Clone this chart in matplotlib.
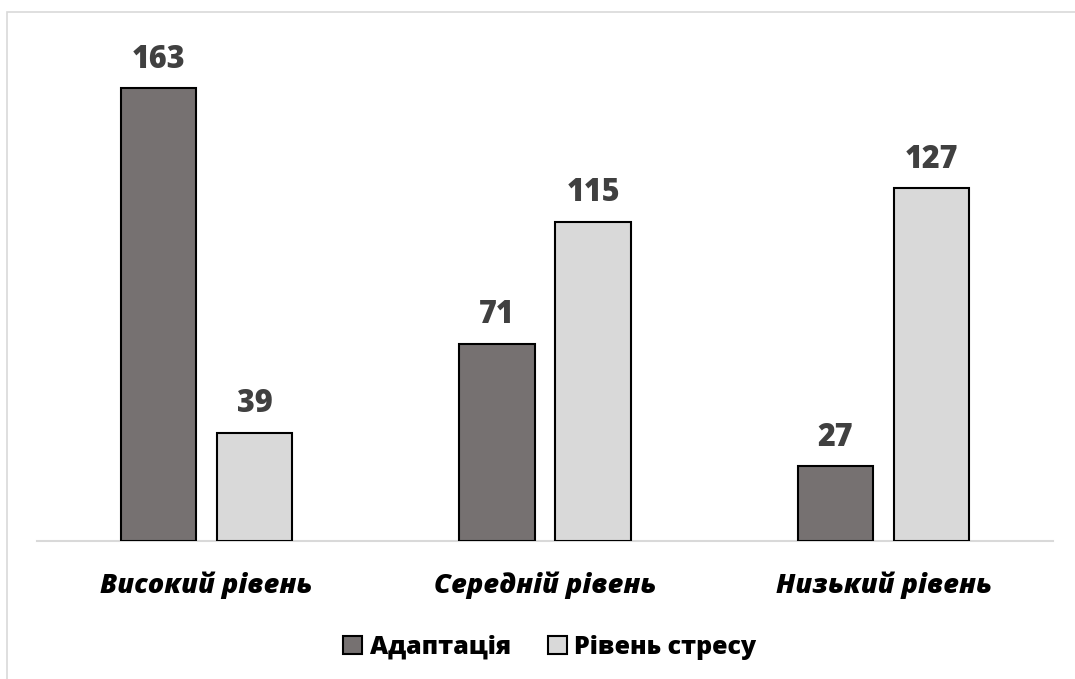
import matplotlib.pyplot as plt
import numpy as np
from matplotlib.patches import Rectangle

plt.rcParams['font.family'] = ['Open Sans', 'DejaVu Sans']

# Data
categories = ['Високий рівень', 'Середній рівень', 'Низький рівень']
series_names = ['Адаптація', 'Рівень стресу']
adaptation = [163, 71, 27]
stress = [39, 115, 127]

colors = ['#767171', '#d9d9d9']

fig = plt.figure(figsize=(10.75, 6.79), dpi=100)
ax = fig.add_axes([37 / 1075, 138 / 679, 1016 / 1075, 500 / 679])

x = np.arange(len(categories))
width = 0.222
offset = 0.142

bars1 = ax.bar(x - offset, adaptation, width, color=colors[0], edgecolor='black',
               linewidth=1.5, label=series_names[0], zorder=3)
bars2 = ax.bar(x + offset, stress, width, color=colors[1], edgecolor='black',
               linewidth=1.5, label=series_names[1], zorder=3)

# Value labels above bars
for bars in (bars1, bars2):
    for b in bars:
        ax.annotate(str(int(b.get_height())), (b.get_x() + b.get_width() / 2, b.get_height()),
                    xytext=(0, 9), textcoords='offset points', ha='center', va='bottom',
                    fontsize=22, fontweight=800, color='#404040')

ax.set_xlim(-0.5, 2.5)
ax.set_ylim(0, 180)
ax.set_yticks([])
ax.set_xticks(x)
ax.set_xticklabels(categories, fontsize=19.5, fontweight=800, fontstyle='italic')
ax.tick_params(axis='x', length=0, pad=22)

for side in ['top', 'right', 'left']:
    ax.spines[side].set_visible(False)
ax.spines['bottom'].set_color('#d9d9d9')
ax.spines['bottom'].set_linewidth(1.5)

# Legend
fig.legend(handles=[bars1, bars2], labels=series_names, loc='center', ncol=2,
           bbox_to_anchor=(550 / 1075, 1 - 647 / 679), frameon=False,
           prop={'size': 18, 'weight': 800}, handlelength=0.75, handleheight=0.75,
           handletextpad=0.3, columnspacing=1.5)

# Outer chart frame (partially cropped in reference)
fig.add_artist(Rectangle((7 / 1075, -0.1), 1.2, 1.1 - 12 / 679, transform=fig.transFigure,
                         fill=False, edgecolor='#d9d9d9', linewidth=1.2))

fig.savefig('out.png', dpi=100)
